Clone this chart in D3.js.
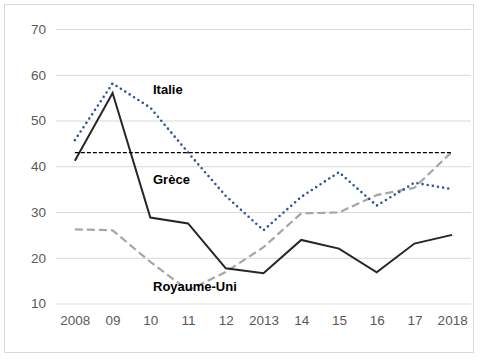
<!DOCTYPE html>
<html>
<head>
<meta charset="utf-8">
<script src="https://cdn.jsdelivr.net/npm/d3@7"></script>
<style>
  body { margin: 0; background: #fff; }
  svg { display: block; font-family: "Liberation Sans", Arial, sans-serif; }
</style>
</head>
<body>
<div id="chart"></div>
<script>
// data
const years = ["2008", "09", "10", "11", "12", "2013", "14", "15", "16", "17", "2018"];
const italie = [45.7, 58.1, 52.8, 43.0, 33.5, 26.0, 33.3, 38.7, 31.4, 36.4, 35.0];
const grece = [41.2, 56.0, 28.8, 27.5, 17.7, 16.6, 23.9, 22.0, 16.8, 23.1, 25.0];
const royaumeUni = [26.2, 26.0, 19.1, 12.9, 16.9, 22.3, 29.7, 29.9, 33.7, 35.3, 43.2];
const reference = [43.0, 43.0];
const yTicks = [10, 20, 30, 40, 50, 60, 70];

const width = 483, height = 363;
const margin = { top: 29, right: 12, bottom: 60, left: 56 };

const svg = d3.select("#chart").append("svg")
    .attr("width", width)
    .attr("height", height);

// outer frame
svg.append("rect")
    .attr("x", 4.5).attr("y", 4.5)
    .attr("width", 469).attr("height", 348)
    .attr("fill", "none")
    .attr("stroke", "#d9d9d9");

const x = d3.scalePoint()
    .domain(years)
    .range([margin.left, width - margin.right])
    .padding(0.5);

const y = d3.scaleLinear()
    .domain([10, 70])
    .range([303.5, 29]);

// gridlines + y labels
svg.append("g")
    .attr("transform", `translate(${margin.left},0)`)
    .call(d3.axisLeft(y).tickValues(yTicks).tickSize(-(width - margin.left - margin.right)).tickPadding(10))
    .call(g => g.select(".domain").remove())
    .call(g => g.selectAll(".tick line").attr("stroke", "#d9d9d9"))
    .call(g => g.selectAll(".tick text")
        .attr("fill", "#595959")
        .attr("font-size", 13.5));

// x labels
svg.append("g")
    .attr("transform", `translate(0,${y(10)})`)
    .call(d3.axisBottom(x).tickSize(0).tickPadding(12))
    .call(g => g.select(".domain").remove())
    .call(g => g.selectAll(".tick text")
        .attr("fill", "#595959")
        .attr("font-size", 13.5));

const line = d3.line()
    .x((d, i) => x(years[i]))
    .y(d => y(d));

svg.append("path")
    .datum(royaumeUni)
    .attr("fill", "none")
    .attr("stroke", "#a6a6a6")
    .attr("stroke-width", 2.2)
    .attr("stroke-dasharray", "8,4")
    .attr("d", line);

svg.append("path")
    .datum(italie)
    .attr("fill", "none")
    .attr("stroke", "#2f5597")
    .attr("stroke-width", 2.6)
    .attr("stroke-linecap", "round")
    .attr("stroke-dasharray", "0,5.2")
    .attr("d", line);

svg.append("path")
    .datum(grece)
    .attr("fill", "none")
    .attr("stroke", "#262626")
    .attr("stroke-width", 2)
    .attr("d", line);

// reference line 2008-2018
svg.append("line")
    .attr("x1", x(years[0]))
    .attr("x2", x(years[years.length - 1]))
    .attr("y1", y(reference[0]))
    .attr("y2", y(reference[1]))
    .attr("stroke", "#000")
    .attr("stroke-width", 1.3)
    .attr("stroke-dasharray", "4,2");

// series labels
const labels = [
    { text: "Italie", value: 56.8 },
    { text: "Grèce", value: 37.2 },
    { text: "Royaume-Uni", value: 13.8 }
];
svg.append("g")
    .selectAll("text")
    .data(labels)
    .join("text")
    .attr("x", 153)
    .attr("y", d => y(d.value))
    .attr("dy", "0.35em")
    .attr("font-size", 13)
    .attr("font-weight", "bold")
    .attr("fill", "#000")
    .text(d => d.text);
</script>
</body>
</html>
